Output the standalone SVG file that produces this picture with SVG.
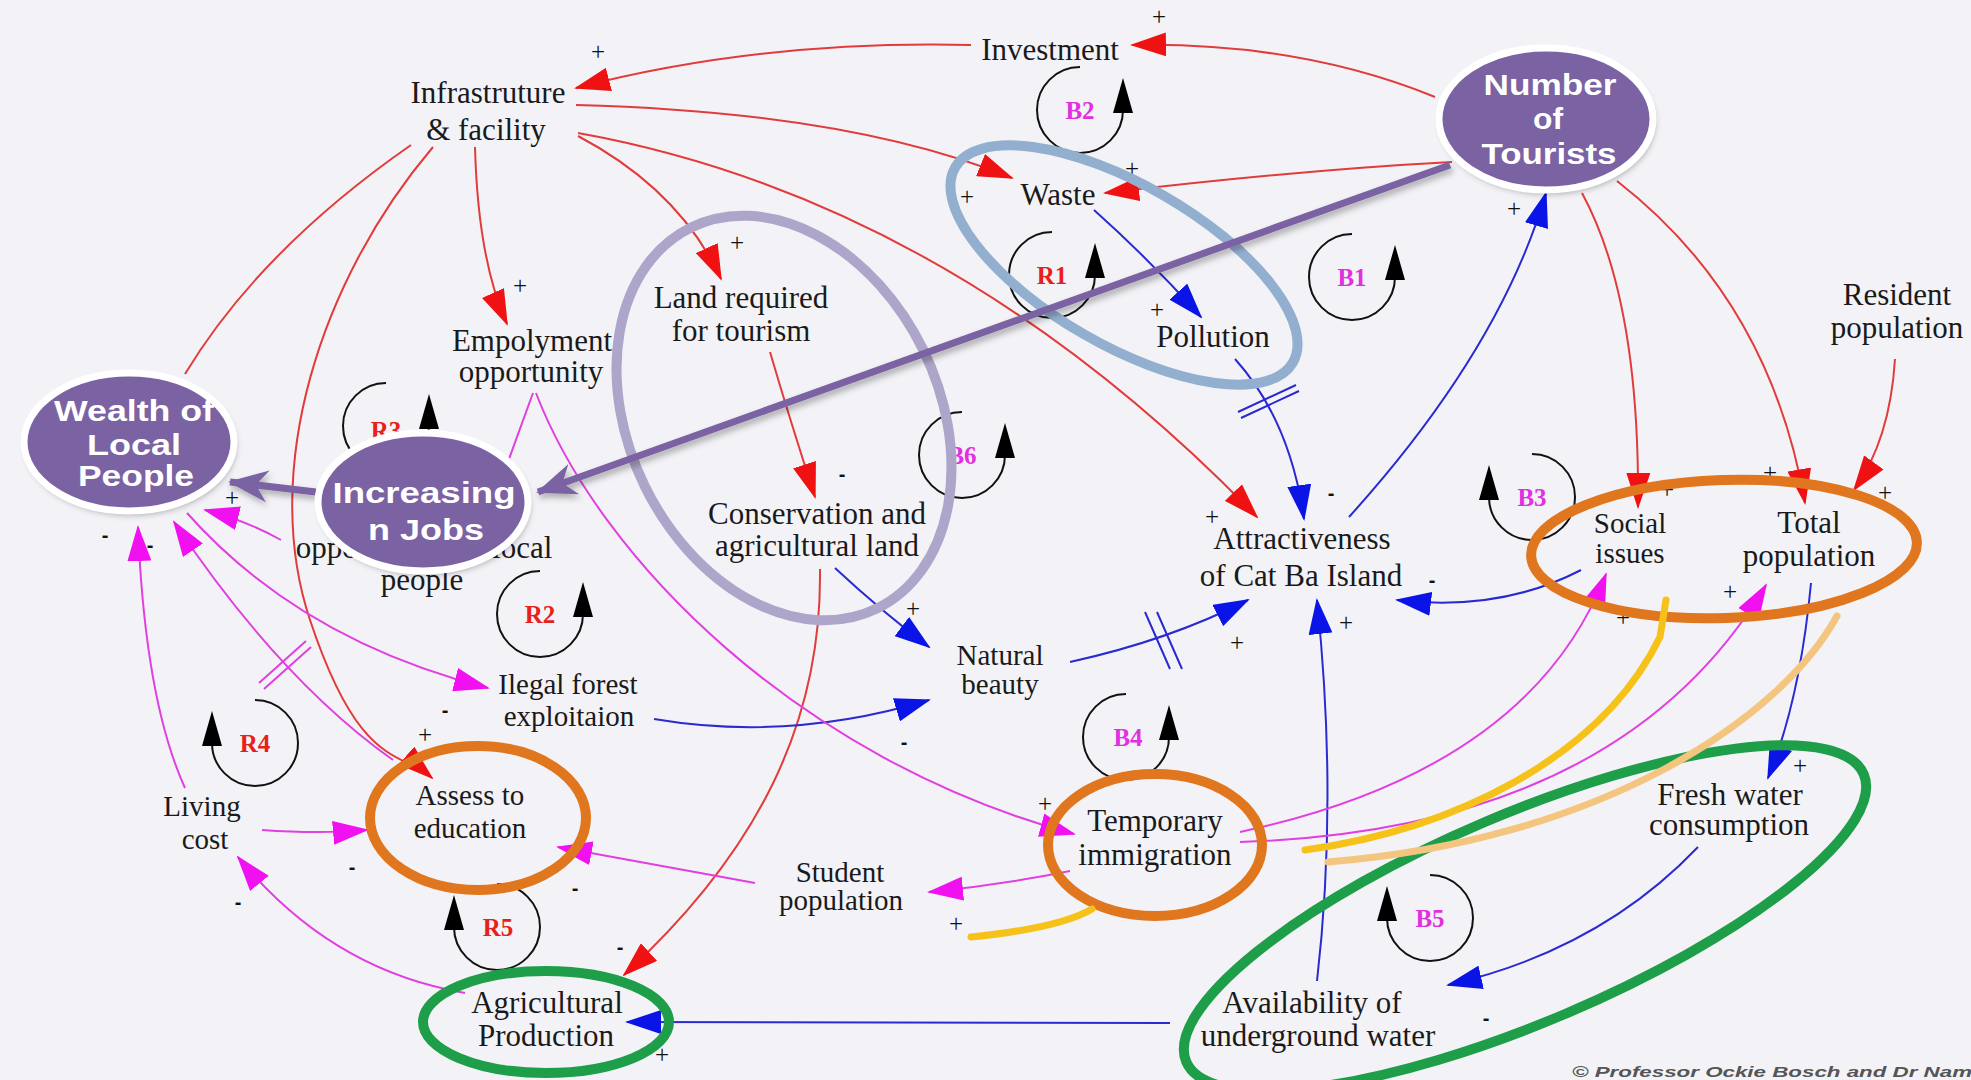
<svg xmlns="http://www.w3.org/2000/svg" xmlns:xlink="http://www.w3.org/1999/xlink" width="1971" height="1080" viewBox="0 0 1971 1080">
<style>
.t{font-family:"Liberation Serif","Times New Roman",serif;font-size:31px;fill:#1a1a1a;text-anchor:middle}
.ts{font-size:29px}
.pt{font-family:"Liberation Sans",Arial,sans-serif;font-weight:bold;font-size:29px;fill:#ffffff;text-anchor:middle}
.lr{font-family:"Liberation Serif",serif;font-weight:bold;font-size:25px;fill:#E8201A;text-anchor:middle}
.lb{font-family:"Liberation Serif",serif;font-weight:bold;font-size:25px;fill:#E030E0;text-anchor:middle}
.pl{font-family:"Liberation Serif",serif;font-size:25px;fill:#111;text-anchor:middle}
.mi{font-family:"Liberation Sans",sans-serif;font-weight:bold;font-size:20px;fill:#111;text-anchor:middle}
.r{fill:none;stroke:#E23B3B;stroke-width:2;marker-end:url(#ar)}
.b{fill:none;stroke:#2A2AD0;stroke-width:2;marker-end:url(#ab)}
.m{fill:none;stroke:#E040E0;stroke-width:2;marker-end:url(#am)}
.hb{fill:none;stroke:#2A2AD0;stroke-width:2}
.hm{fill:none;stroke:#E040E0;stroke-width:2}
.ring{fill:none;stroke-width:10}
.pn{fill:#7A62A3;stroke:none}
.pr{fill:none;stroke:#ffffff;stroke-width:7}
.pa{fill:none;stroke:#7A62A3;stroke-width:7;marker-end:url(#ap)}
</style>
<defs>
<marker id="ar" markerUnits="userSpaceOnUse" markerWidth="36" markerHeight="24" viewBox="0 0 36 24" refX="34" refY="12" orient="auto"><path d="M0,0 L36,12 L0,24 z" fill="#F01212"/></marker>
<marker id="ab" markerUnits="userSpaceOnUse" markerWidth="36" markerHeight="24" viewBox="0 0 36 24" refX="34" refY="12" orient="auto"><path d="M0,0 L36,12 L0,24 z" fill="#0A14E6"/></marker>
<marker id="am" markerUnits="userSpaceOnUse" markerWidth="36" markerHeight="24" viewBox="0 0 36 24" refX="34" refY="12" orient="auto"><path d="M0,0 L36,12 L0,24 z" fill="#F010F0"/></marker>
<marker id="ap" markerUnits="userSpaceOnUse" markerWidth="42" markerHeight="36" viewBox="0 0 42 36" refX="38" refY="18" orient="auto"><path d="M0,2 L40,18 L0,34 L12,18 z" fill="#7A62A3"/></marker>
<filter id="sh" x="-20%" y="-30%" width="140%" height="160%"><feDropShadow dx="2" dy="4" stdDeviation="3" flood-color="#000" flood-opacity="0.3"/></filter>
<g id="loopA"><path d="M0,-43 A43,43 0 1 0 43,0" fill="none" stroke="#111" stroke-width="2"/><polygon points="33,3 53,3 43,-32" fill="#000"/></g>
<g id="loopB"><path d="M0,-43 A43,43 0 1 1 -43,0" fill="none" stroke="#111" stroke-width="2"/><polygon points="-53,3 -33,3 -43,-32" fill="#000"/></g>
</defs>
<rect width="1971" height="1080" fill="#F3F3F7"/>

<g id="connectors">
<path class="r" d="M1435,97 Q1300,42 1132,45"/>
<path class="r" d="M971,45 Q760,40 576,88"/>
<path class="r" d="M576,105 Q850,112 1012,178"/>
<path class="r" d="M1452,162 Q1300,170 1105,193"/>
<path class="r" d="M578,133 Q950,200 1257,517"/>
<path class="r" d="M578,136 Q680,190 721,279"/>
<path class="r" d="M475,147 Q478,260 507,324"/>
<path class="r" d="M433,147 C320,280 260,470 310,620 S400,750 432,778"/>
<path d="M411,145 Q260,250 185,374" fill="none" stroke="#E23B3B" stroke-width="2"/>
<path class="r" d="M770,352 Q790,420 815,497"/>
<path class="r" d="M820,569 C822,720 760,850 624,975"/>
<path class="r" d="M1582,193 Q1640,300 1638,507"/>
<path class="r" d="M1617,181 Q1770,300 1805,503"/>
<path class="r" d="M1895,359 Q1890,440 1854,490"/>

<path class="b" d="M1094,210 Q1150,260 1201,317"/>
<path class="b" d="M1235,359 Q1290,420 1304,519"/>
<path class="b" d="M1349,517 Q1500,350 1546,193"/>
<path class="b" d="M1581,570 Q1500,612 1397,600"/>
<path class="b" d="M1317,981 Q1338,800 1317,600"/>
<path class="b" d="M1811,583 Q1800,700 1768,778"/>
<path class="b" d="M1698,847 Q1600,950 1448,985"/>
<path class="b" d="M1170,1023 L627,1022"/>
<path class="b" d="M835,568 Q880,610 929,647"/>
<path class="b" d="M654,719 Q790,742 929,700"/>
<path class="b" d="M1070,662 Q1170,640 1248,600"/>
<path class="hb" d="M1238,412 L1296,385 M1241,418 L1299,391"/>
<path class="hb" d="M1145,612 L1170,669 M1157,612 L1182,669"/>

<path class="m" d="M536,393 C600,560 800,760 1074,834"/>
<path d="M533,393 L505,470" fill="none" stroke="#E040E0" stroke-width="2"/>
<path class="m" d="M281,540 Q245,520 205,510"/>
<path class="m" d="M187,513 Q300,640 488,688"/>
<path class="m" d="M393,760 Q280,680 174,522"/>
<path class="m" d="M185,788 Q145,700 138,527"/>
<path class="m" d="M262,830 Q320,834 367,830"/>
<path class="m" d="M465,993 Q330,970 238,857"/>
<path class="m" d="M755,883 Q660,866 558,847"/>
<path class="m" d="M1070,871 Q1000,885 929,892"/>
<path class="m" d="M1240,832 Q1530,770 1606,574"/>
<path class="m" d="M1240,842 Q1620,830 1766,585"/>
<path class="hm" d="M259,683 L306,641 M264,689 L311,647"/>
</g>

<g id="loops">
<use href="#loopA" x="1080" y="110"/><text class="lb" x="1080" y="119">B2</text>
<use href="#loopA" x="1052" y="275"/><text class="lr" x="1052" y="284">R1</text>
<use href="#loopA" x="1352" y="277"/><text class="lb" x="1352" y="286">B1</text>
<use href="#loopA" x="962" y="455"/><text class="lb" x="962" y="464">B6</text>
<use href="#loopA" x="386" y="426"/><text class="lr" x="386" y="439">R3</text>
<use href="#loopA" x="540" y="614"/><text class="lr" x="540" y="623">R2</text>
<use href="#loopA" x="1126" y="737"/><text class="lb" x="1128" y="746">B4</text>
<use href="#loopB" x="255" y="743"/><text class="lr" x="255" y="752">R4</text>
<use href="#loopB" x="497" y="927"/><text class="lr" x="498" y="936">R5</text>
<use href="#loopB" x="1532" y="497"/><text class="lb" x="1532" y="506">B3</text>
<use href="#loopB" x="1430" y="918"/><text class="lb" x="1430" y="927">B5</text>
</g>

<g id="signs">
<text class="pl" x="598" y="60">+</text>
<text class="pl" x="1159" y="25">+</text>
<text class="pl" x="520" y="294">+</text>
<text class="pl" x="737" y="251">+</text>
<text class="pl" x="967" y="205">+</text>
<text class="pl" x="1132" y="177">+</text>
<text class="pl" x="1157" y="318">+</text>
<text class="mi" x="842" y="481">-</text>
<text class="pl" x="1212" y="525">+</text>
<text class="mi" x="1331" y="500">-</text>
<text class="pl" x="1514" y="217">+</text>
<text class="pl" x="1667" y="498">+</text>
<text class="pl" x="1770" y="481">+</text>
<text class="pl" x="1885" y="501">+</text>
<text class="mi" x="1432" y="587">-</text>
<text class="pl" x="1346" y="631">+</text>
<text class="pl" x="1237" y="651">+</text>
<text class="pl" x="1730" y="600">+</text>
<text class="pl" x="1623" y="626">+</text>
<text class="pl" x="1800" y="774">+</text>
<text class="mi" x="1486" y="1025">-</text>
<text class="pl" x="913" y="617">+</text>
<text class="mi" x="904" y="749">-</text>
<text class="pl" x="1045" y="812">+</text>
<text class="pl" x="956" y="932">+</text>
<text class="mi" x="445" y="717">-</text>
<text class="pl" x="425" y="743">+</text>
<text class="mi" x="352" y="874">-</text>
<text class="mi" x="238" y="909">-</text>
<text class="mi" x="575" y="895">-</text>
<text class="mi" x="620" y="954">-</text>
<text class="pl" x="662" y="1063">+</text>
<text class="pl" x="232" y="506">+</text>
<text class="mi" x="105" y="542">-</text>
<text class="mi" x="150" y="552">-</text>
</g>

<g id="n-investment"><text class="t" x="1050" y="60">Investment</text></g>
<g id="n-infrastructure"><text class="t" x="488" y="103">Infrastruture</text><text class="t" x="486" y="140">&amp; facility</text></g>
<g id="n-waste"><text class="t" x="1058" y="205">Waste</text></g>
<g id="n-pollution"><text class="t" x="1213" y="347">Pollution</text></g>
<g id="n-land"><text class="t" x="741" y="308">Land required</text><text class="t" x="741" y="341">for tourism</text></g>
<g id="n-employment"><text class="t" x="532" y="351">Empolyment</text><text class="t" x="531" y="382">opportunity</text></g>
<g id="n-resident"><text class="t" x="1897" y="305">Resident</text><text class="t" x="1897" y="338">population</text></g>
<g id="n-attractiveness"><text class="t" x="1302" y="549">Attractiveness</text><text class="t" x="1301" y="586">of Cat Ba Island</text></g>
<g id="n-social"><text class="t ts" x="1630" y="533">Social</text><text class="t ts" x="1630" y="563">issues</text></g>
<g id="n-total"><text class="t" x="1809" y="533">Total</text><text class="t" x="1809" y="566">population</text></g>
<g id="n-conservation"><text class="t" x="817" y="524">Conservation and</text><text class="t" x="817" y="556">agricultural land</text></g>
<g id="n-natural"><text class="t ts" x="1000" y="665">Natural</text><text class="t ts" x="1000" y="694">beauty</text></g>
<g id="n-illegal"><text class="t ts" x="568" y="694">Ilegal forest</text><text class="t ts" x="569" y="726">exploitaion</text></g>
<g id="n-living"><text class="t ts" x="202" y="816">Living</text><text class="t ts" x="205" y="849">cost</text></g>
<g id="n-assess"><text class="t ts" x="470" y="805">Assess to</text><text class="t ts" x="470" y="838">education</text></g>
<g id="n-student"><text class="t ts" x="840" y="882">Student</text><text class="t ts" x="841" y="910">population</text></g>
<g id="n-temporary"><text class="t" x="1155" y="831">Temporary</text><text class="t" x="1155" y="865">immigration</text></g>
<g id="n-freshwater"><text class="t" x="1730" y="805">Fresh water</text><text class="t" x="1729" y="835">consumption</text></g>
<g id="n-availability"><text class="t" x="1312" y="1013">Availability of</text><text class="t" x="1318" y="1046">underground water</text></g>
<g id="n-agricultural"><text class="t" x="547" y="1013">Agricultural</text><text class="t" x="546" y="1046">Production</text></g>
<g id="n-opportunity"><text class="t" x="424" y="558">opportunity for local</text><text class="t" x="422" y="590">people</text></g>

<g id="highlights">
<ellipse class="ring" cx="1124" cy="265" rx="195" ry="80" transform="rotate(30 1124 265)" stroke="#93AFD0"/>
<ellipse class="ring" cx="784" cy="418" rx="155" ry="212" transform="rotate(-26 784 418)" stroke="#AEA5CA"/>
<ellipse class="ring" cx="1724" cy="549" rx="193" ry="69" transform="rotate(-2 1724 549)" stroke="#E0761E"/>
<ellipse class="ring" cx="1155" cy="845" rx="107" ry="71" stroke="#E0761E"/>
<ellipse class="ring" cx="478" cy="818" rx="108" ry="72" stroke="#E0761E"/>
<ellipse class="ring" cx="546" cy="1022" rx="123" ry="51" stroke="#1E9E48"/>
<ellipse class="ring" cx="1525" cy="918" rx="368" ry="104" transform="rotate(-23 1525 918)" stroke="#1E9E48"/>
<path d="M1666,600 L1660,637 C1600,760 1450,830 1305,850" fill="none" stroke="#F6C21A" stroke-width="7" stroke-linecap="round"/>
<path d="M1092,909 Q1060,928 971,937" fill="none" stroke="#F6C21A" stroke-width="7" stroke-linecap="round"/>
<path d="M1837,616 C1780,720 1600,840 1328,862" fill="none" stroke="#F4C57F" stroke-width="7" stroke-linecap="round"/>
</g>

<g id="purple-links" filter="url(#sh)">
<path class="pa" d="M1450,165 L538,492"/>
<path class="pa" d="M316,492 L230,482"/>
</g>

<g id="n-tourists">
<ellipse class="pn" cx="1546" cy="119" rx="107" ry="71" filter="url(#sh)"/>
<text class="pt" x="1550" y="95" textLength="133" lengthAdjust="spacingAndGlyphs">Number</text>
<text class="pt" x="1548" y="129" textLength="30" lengthAdjust="spacingAndGlyphs">of</text>
<text class="pt" x="1549" y="164" textLength="135" lengthAdjust="spacingAndGlyphs">Tourists</text>
<ellipse class="pr" cx="1546" cy="119" rx="107" ry="71"/>
</g>
<g id="n-wealth">
<ellipse class="pn" cx="129" cy="442" rx="105" ry="69" filter="url(#sh)"/>
<text class="pt" x="134" y="421" textLength="160" lengthAdjust="spacingAndGlyphs">Wealth of</text>
<text class="pt" x="134" y="455" textLength="94" lengthAdjust="spacingAndGlyphs">Local</text>
<text class="pt" x="136" y="486" textLength="116" lengthAdjust="spacingAndGlyphs">People</text>
<ellipse class="pr" cx="129" cy="442" rx="105" ry="69"/>
</g>
<g id="n-jobs">
<ellipse class="pn" cx="423" cy="502" rx="105" ry="69" filter="url(#sh)"/>
<text class="pt" x="424" y="503" textLength="183" lengthAdjust="spacingAndGlyphs">Increasing</text>
<text class="pt" x="426" y="540" textLength="116" lengthAdjust="spacingAndGlyphs">n Jobs</text>
<ellipse class="pr" cx="423" cy="502" rx="105" ry="69"/>
</g>

<text x="1572" y="1077" textLength="400" lengthAdjust="spacingAndGlyphs" style="font-family:'Liberation Sans',Arial,sans-serif;font-style:italic;font-weight:bold;font-size:15px;fill:#555">© Professor Ockie Bosch and Dr Nam</text>
</svg>
